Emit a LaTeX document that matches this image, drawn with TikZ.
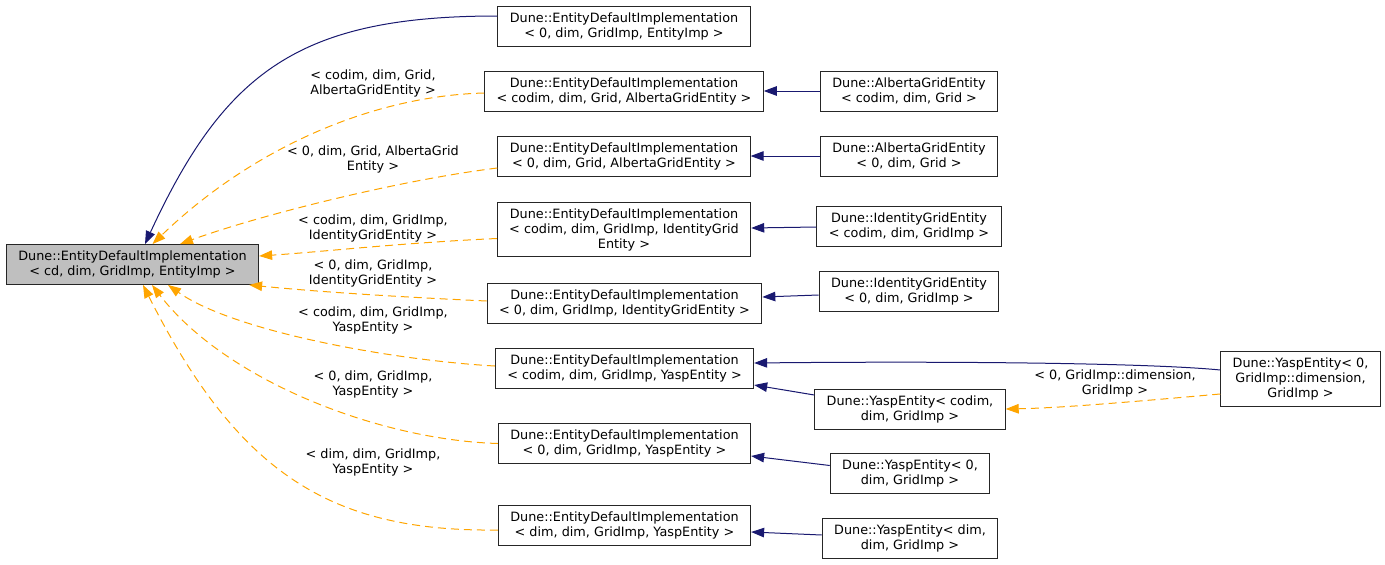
\documentclass[tikz,border=0pt]{standalone}
\usepackage{fontspec}
\setmainfont{DejaVu Sans}
\usepackage{tikz}
\usetikzlibrary{arrows.meta}

\definecolor{navyedge}{HTML}{191970}
\definecolor{tmpledge}{HTML}{FFA500}
\definecolor{basefill}{HTML}{BFBFBF}

\tikzset{
  cls/.style={draw=black!85, line width=0.9pt, fill=white, align=center,
    inner xsep=12pt, inner ysep=6pt, minimum height=40pt,
    font=\fontsize{12.8pt}{15pt}\selectfont},
  lbl/.style={align=center, inner sep=0pt, font=\fontsize{12.8pt}{15pt}\selectfont},
  pub/.style={draw=navyedge, line width=1pt, -{Triangle[length=13pt,width=9.5pt]}},
  tmpl/.style={draw=tmpledge, line width=1pt, dash pattern=on 8pt off 5pt,
    -{Triangle[length=13pt,width=9.5pt]}}
}

\begin{document}
\begin{tikzpicture}[x=1pt,y=1pt]
      \useasboundingbox (0,0) rectangle (1385,-565);
      \node [cls, fill=basefill] (base) at (132.5,-264.5) {Dune::EntityDefaultImplementation\\< cd, dim, GridImp, EntityImp >};
      \node [cls] (e0) at (624,-26) {Dune::EntityDefaultImplementation\\< 0, dim, GridImp, EntityImp >};
      \node [cls] (agc) at (624,-91) {Dune::EntityDefaultImplementation\\< codim, dim, Grid, AlbertaGridEntity >};
      \node [cls] (ag0) at (624,-156) {Dune::EntityDefaultImplementation\\< 0, dim, Grid, AlbertaGridEntity >};
      \node [cls] (igc) at (624,-229.5) {Dune::EntityDefaultImplementation\\< codim, dim, GridImp, IdentityGrid\\Entity >};
      \node [cls] (ig0) at (624.5,-303) {Dune::EntityDefaultImplementation\\< 0, dim, GridImp, IdentityGridEntity >};
      \node [cls] (ysc) at (624.5,-368) {Dune::EntityDefaultImplementation\\< codim, dim, GridImp, YaspEntity >};
      \node [cls] (ys0) at (624.5,-443.5) {Dune::EntityDefaultImplementation\\< 0, dim, GridImp, YaspEntity >};
      \node [cls] (ysd) at (624.5,-525.5) {Dune::EntityDefaultImplementation\\< dim, dim, GridImp, YaspEntity >};
      \node [cls] (albc) at (909,-91) {Dune::AlbertaGridEntity\\< codim, dim, Grid >};
      \node [cls] (alb0) at (909,-156) {Dune::AlbertaGridEntity\\< 0, dim, Grid >};
      \node [cls] (idc) at (909,-226) {Dune::IdentityGridEntity\\< codim, dim, GridImp >};
      \node [cls] (id0) at (909,-291) {Dune::IdentityGridEntity\\< 0, dim, GridImp >};
      \node [cls] (yec) at (910,-409) {Dune::YaspEntity< codim,\\dim, GridImp >};
      \node [cls] (ye0) at (910,-473.5) {Dune::YaspEntity< 0,\\dim, GridImp >};
      \node [cls] (yed) at (910,-538.5) {Dune::YaspEntity< dim,\\dim, GridImp >};
      \node [cls] (yeg) at (1300.5,-379) {Dune::YaspEntity< 0,\\GridImp::dimension,\\GridImp >};
      \draw [pub] ([yshift=10pt]e0.west) .. controls (300,-16) and (225,-71) .. ([xshift=12.5pt]base.north);
      \draw [tmpl] ([yshift=-2pt]agc.west) .. controls (370,-96) and (250,-150) .. ([xshift=20pt]base.north);
      \draw [tmpl] ([yshift=-12pt]ag0.west) .. controls (400,-180) and (260,-215) .. ([xshift=47.5pt]base.north);
      \draw [tmpl] ([yshift=-9pt]igc.west) .. controls (400,-243) and (320,-252) .. ([yshift=8.5pt]base.east);
      \draw [tmpl] ([yshift=2pt]ig0.west) .. controls (400,-297) and (320,-292) .. ([xshift=-10pt]base.south east);
      \draw [tmpl] ([yshift=2pt]ysc.west) .. controls (390,-360) and (233,-331) .. ([xshift=35.5pt]base.south);
      \draw [tmpl] (ys0.west) .. controls (380,-440) and (226,-381) .. ([xshift=19.5pt]base.south);
      \draw [tmpl] ([yshift=-4.5pt]ysd.west) .. controls (330,-532) and (238,-473) .. ([xshift=10.5pt]base.south);
      \node [lbl] (lagc) at (373,-83) {< codim, dim, Grid,\\AlbertaGridEntity >};
      \node [lbl] (lag0) at (373,-159) {< 0, dim, Grid, AlbertaGrid\\Entity >};
      \node [lbl] (ligc) at (373,-228) {< codim, dim, GridImp,\\IdentityGridEntity >};
      \node [lbl] (lig0) at (373,-273) {< 0, dim, GridImp,\\IdentityGridEntity >};
      \node [lbl] (lysc) at (373,-320) {< codim, dim, GridImp,\\YaspEntity >};
      \node [lbl] (lys0) at (373,-384) {< 0, dim, GridImp,\\YaspEntity >};
      \node [lbl] (lysd) at (373,-462) {< dim, dim, GridImp,\\YaspEntity >};
      \node [lbl] (lyeg) at (1115,-383) {< 0, GridImp::dimension,\\GridImp >};
      \draw [pub] (albc.west) -- (agc.east);
      \draw [pub] (alb0.west) -- (ag0.east);
      \draw [pub] ([yshift=-1pt]idc.west) -- ([yshift=1.5pt]igc.east);
      \draw [pub] ([yshift=-4pt]id0.west) -- ([yshift=6pt]ig0.east);
      \draw [pub] ([yshift=14pt]yec.west) -- ([yshift=-17pt]ysc.east);
      \draw [pub] ([yshift=9pt]yeg.west) .. controls (1150,-363) and (950,-361) .. ([yshift=5pt]ysc.east);
      \draw [tmpl] ([yshift=-15pt]yeg.west) .. controls (1130,-402) and (1060,-408) .. (yec.east);
      \draw [pub] ([yshift=8pt]ye0.west) -- ([yshift=-12.5pt]ys0.east);
      \draw [pub] ([yshift=3.5pt]yed.west) -- ([yshift=-6.5pt]ysd.east);
    \end{tikzpicture}
\end{document}
